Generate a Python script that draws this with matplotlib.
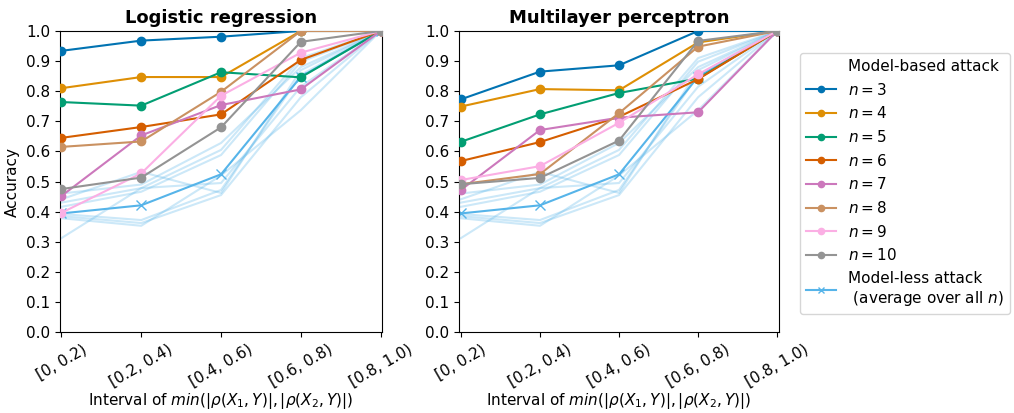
import matplotlib
matplotlib.use("Agg")
import matplotlib.pyplot as plt
from matplotlib.lines import Line2D

x_labels = ["[0, 0.2)", "[0.2, 0.4)", "[0.4, 0.6)", "[0.6, 0.8)", "[0.8, 1.0)"]
n_values = [3, 4, 5, 6, 7, 8, 9, 10]

lr_n3 = [0.934, 0.968, 0.981, 1.0, 1.0]
lr_n4 = [0.810, 0.847, 0.847, 1.0, 1.0]
lr_n5 = [0.764, 0.752, 0.863, 0.846, 1.0]
lr_n6 = [0.645, 0.681, 0.723, 0.904, 1.0]
lr_n7 = [0.452, 0.653, 0.754, 0.806, 1.0]
lr_n8 = [0.615, 0.633, 0.798, 1.0, 1.0]
lr_n9 = [0.396, 0.527, 0.785, 0.928, 1.0]
lr_n10 = [0.475, 0.513, 0.680, 0.964, 1.0]

mlp_n3 = [0.773, 0.865, 0.886, 1.0, 1.0]
mlp_n4 = [0.749, 0.807, 0.803, 0.962, 1.0]
mlp_n5 = [0.632, 0.723, 0.794, 0.842, 1.0]
mlp_n6 = [0.568, 0.631, 0.715, 0.840, 1.0]
mlp_n7 = [0.472, 0.671, 0.712, 0.730, 1.0]
mlp_n8 = [0.491, 0.525, 0.727, 0.948, 1.0]
mlp_n9 = [0.505, 0.551, 0.695, 0.856, 1.0]
mlp_n10 = [0.491, 0.512, 0.636, 0.967, 1.0]

modelless_avg = [0.394, 0.421, 0.524, 0.848, 1.0]

# model-less attack for each n (faint lines)
ml_n3 = [0.312, 0.478, 0.605, 0.910, 1.0]
ml_n4 = [0.441, 0.532, 0.462, 0.870, 1.0]
ml_n5 = [0.430, 0.478, 0.495, 0.815, 1.0]
ml_n6 = [0.416, 0.466, 0.588, 0.898, 1.0]
ml_n7 = [0.392, 0.372, 0.472, 0.854, 1.0]
ml_n8 = [0.385, 0.362, 0.455, 0.780, 1.0]
ml_n9 = [0.378, 0.353, 0.520, 0.737, 1.0]
ml_n10 = [0.460, 0.490, 0.628, 0.880, 1.0]

lr_series = [lr_n3, lr_n4, lr_n5, lr_n6, lr_n7, lr_n8, lr_n9, lr_n10]
mlp_series = [mlp_n3, mlp_n4, mlp_n5, mlp_n6, mlp_n7, mlp_n8, mlp_n9, mlp_n10]
ml_series = [ml_n3, ml_n4, ml_n5, ml_n6, ml_n7, ml_n8, ml_n9, ml_n10]

colors = ["#0173B2", "#DE8F05", "#029E73", "#D55E00", "#CC78BC", "#CA9161", "#FBAFE4", "#949494"]
ml_color = "#56B4E9"

plt.rcParams["font.family"] = ["DejaVu Sans"]
plt.rcParams["font.size"] = 11

fig = plt.figure(figsize=(10.14, 4.13), dpi=100)
ax1 = fig.add_axes([0.059, 0.196, 0.318, 0.729])
ax2 = fig.add_axes([0.453, 0.196, 0.315, 0.729])

xs = list(range(len(x_labels)))
for ax, series, title in [(ax1, lr_series, "Logistic regression"), (ax2, mlp_series, "Multilayer perceptron")]:
    for s in ml_series:
        ax.plot(xs, s, color=ml_color, alpha=0.3, lw=1.5, zorder=1)
    for s, c in zip(series, colors):
        ax.plot(xs, s, color=c, marker="o", ms=6, lw=1.5, zorder=3)
    ax.plot(xs, modelless_avg, color=ml_color, marker="x", ms=7, lw=1.5, zorder=2)
    ax.set_xlim(-0.02, 4.02)
    ax.set_ylim(0, 1.0)
    ax.set_yticks([i / 10 for i in range(11)])
    ax.set_xticks(xs)
    ax.set_xticklabels(x_labels, rotation=30)
    ax.set_title(title, fontweight="bold", fontsize=13)
    ax.set_xlabel(r"Interval of $min(|\rho(X_1, Y)|, |\rho(X_2, Y)|)$", fontsize=11, labelpad=1)
ax1.set_ylabel("Accuracy")

handles = [Line2D([], [], color="none", label="Model-based attack")]
for n, c in zip(n_values, colors):
    handles.append(Line2D([], [], color=c, marker="o", ms=6, lw=1.5, label=f"$n = {n}$"))
handles.append(Line2D([], [], color=ml_color, marker="x", ms=6, lw=1.5,
                      label="Model-less attack\n (average over all $n$)"))
fig.legend(handles=handles, loc="upper left", bbox_to_anchor=(0.781, 0.89),
           fontsize=11, markerscale=0.75, frameon=True)

fig.savefig("out.png", dpi=100)
